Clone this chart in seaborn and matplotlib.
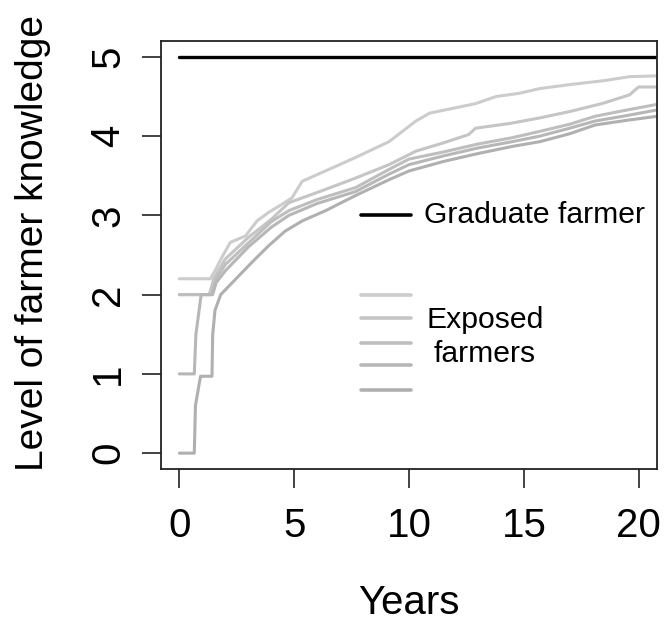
import matplotlib
matplotlib.use("Agg")
import matplotlib.pyplot as plt
import seaborn as sns
import pandas as pd

# ---------------- data ----------------
grad_years = [0, 21]
grad_level = [5, 5]

f1_years = [0, 1.35, 1.57, 1.85, 2.22, 2.88, 3.38, 3.9, 4.47, 4.9, 5.35, 6.2, 7.67, 9.13,
            10.3, 10.9, 11.9, 12.9, 13.8, 14.8, 15.7, 17.0, 18.5, 19.6, 20.8]
f1_level = [2.2, 2.2, 2.31, 2.47, 2.66, 2.74, 2.93, 3.04, 3.14, 3.22, 3.43, 3.54, 3.73, 3.93,
            4.19, 4.29, 4.35, 4.41, 4.50, 4.54, 4.60, 4.65, 4.70, 4.75, 4.76]

f2_years = [0, 1.3, 1.5, 2.0, 3.0, 4.0, 4.77, 6.2, 7.67, 9.13, 10.3, 11.45, 12.6, 12.9,
            14.4, 15.7, 17.0, 18.4, 19.6, 20.0, 20.8]
f2_level = [2.0, 2.0, 2.2, 2.45, 2.72, 2.95, 3.16, 3.31, 3.47, 3.64, 3.81, 3.91, 4.02, 4.10,
            4.16, 4.23, 4.31, 4.41, 4.52, 4.62, 4.62]

f3_years = [0, 1.4, 1.6, 2.0, 3.0, 4.0, 4.77, 6.0, 7.67, 9.13, 10.0, 11.5, 13.0, 14.5,
            15.7, 17.0, 18.1, 19.5, 20.8]
f3_level = [2.0, 2.0, 2.2, 2.38, 2.65, 2.92, 3.06, 3.2, 3.35, 3.58, 3.71, 3.8, 3.9, 3.98,
            4.06, 4.15, 4.25, 4.33, 4.40]

f4_years = [0, 0.65, 0.72, 0.95, 1.45, 1.6, 2.0, 3.0, 4.0, 4.77, 6.0, 7.67, 9.13, 10.0,
            11.5, 13.0, 14.5, 15.7, 17.0, 18.1, 19.5, 20.8]
f4_level = [1.0, 1.0, 1.5, 2.0, 2.0, 2.15, 2.3, 2.6, 2.85, 3.0, 3.15, 3.3, 3.52, 3.64,
            3.75, 3.85, 3.93, 4.00, 4.10, 4.19, 4.26, 4.33]

f5_years = [0, 0.65, 0.7, 0.92, 1.42, 1.45, 1.55, 1.8, 2.4, 3.2, 3.9, 4.6, 5.35, 6.37,
            7.67, 9.13, 10.0, 11.5, 13.0, 14.5, 15.7, 17.0, 18.1, 19.5, 20.8]
f5_level = [0, 0, 0.6, 0.97, 0.97, 1.49, 1.8, 2.0, 2.18, 2.42, 2.62, 2.8, 2.93, 3.06,
            3.25, 3.45, 3.56, 3.68, 3.78, 3.87, 3.93, 4.03, 4.14, 4.2, 4.25]

farmer_names = ["f1", "f2", "f3", "f4", "f5"]
farmer_colors = ["#cccccc", "#c5c5c5", "#bebebe", "#b7b7b7", "#b0b0b0"]

x_ticks = [0, 5, 10, 15, 20]
y_ticks = [0, 1, 2, 3, 4, 5]
x_label = "Years"
y_label = "Level of farmer knowledge"
grad_text = "Graduate farmer"
exposed_text = ["Exposed", "farmers"]

# ---------------- build long-form table ----------------
series = [(f1_years, f1_level), (f2_years, f2_level), (f3_years, f3_level),
          (f4_years, f4_level), (f5_years, f5_level)]
rows = []
for name, (xs, ys) in zip(farmer_names, series):
    for i, (xv, yv) in enumerate(zip(xs, ys)):
        rows.append({"farmer": name, "order": i, "Years": xv, "Level": yv})
df = pd.DataFrame(rows)
grad_df = pd.DataFrame({"Years": grad_years, "Level": grad_level})

# ---------------- plotting ----------------
sns.set_style("ticks")
plt.rcParams["font.family"] = ["Liberation Sans", "DejaVu Sans"]
plt.rcParams["text.color"] = "black"
plt.rcParams["axes.labelcolor"] = "black"
plt.rcParams["xtick.color"] = "black"
plt.rcParams["ytick.color"] = "black"

W, H = 666, 623
fig = plt.figure(figsize=(W / 100, H / 100), dpi=100)
ax = fig.add_axes([161 / W, 1 - 469 / H, (657 - 161) / W, (469 - 41) / H])

palette = dict(zip(farmer_names, farmer_colors))
sns.lineplot(data=df, x="Years", y="Level", hue="farmer", palette=palette,
             estimator=None, sort=False, linewidth=2.2,
             legend=False, ax=ax)
sns.lineplot(data=grad_df, x="Years", y="Level", color="black", linewidth=2.4,
             estimator=None, sort=False, legend=False, ax=ax)

ax.set_xlim(-0.8, 20.8)
ax.set_ylim(-0.2, 5.2)
ax.set_xticks(x_ticks)
ax.set_yticks(y_ticks)
ax.set_xticklabels([str(t) for t in x_ticks], fontsize=29, color="black")
ax.set_yticklabels([str(t) for t in y_ticks], fontsize=29, rotation=90, va="center",
                   color="black")
ax.tick_params(axis="both", length=13.5, width=1.2, color="#222222", direction="out")
ax.tick_params(axis="x", pad=14)
ax.tick_params(axis="y", pad=11)
for s in ax.spines.values():
    s.set_visible(True)
    s.set_linewidth(1.3)
    s.set_color("#222222")

ax.set_xlabel(x_label, fontsize=29, color="black")
ax.set_ylabel(y_label, fontsize=28, color="black")
ax.xaxis.set_label_coords(0.5, (469 - 603) / 428, transform=ax.transAxes)
ax.xaxis.label.set_va("center")
ax.yaxis.set_label_coords((33 - 161) / 496, (469 - 243) / 428, transform=ax.transAxes)
ax.yaxis.label.set_va("center")

# manual legend
leg_x = [7.9, 10.1]
ax.plot(leg_x, [3.0, 3.0], color="black", linewidth=2.6, solid_capstyle="round")
ax.text(10.65, 3.0, grad_text, fontsize=21.7, va="center", ha="left", color="black")
for yv, c in zip([1.99, 1.71, 1.39, 1.11, 0.80], farmer_colors):
    ax.plot(leg_x, [yv, yv], color=c, linewidth=2.6, solid_capstyle="round")
ax.text(13.3, 1.58, exposed_text[0], fontsize=21.7, va="baseline", ha="center", color="black")
ax.text(13.3, 1.15, exposed_text[1], fontsize=21.7, va="baseline", ha="center", color="black")

fig.savefig("out.png", dpi=100)
